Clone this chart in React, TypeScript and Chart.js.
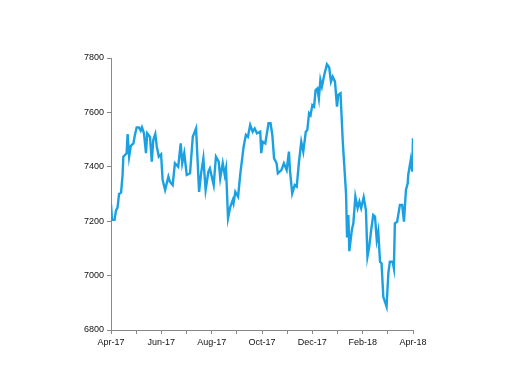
import React, { useEffect, useRef } from "react";
import { Chart, registerables } from "chart.js";

Chart.register(...registerables);

// x = months since Apr-2017
const monthOffsets = [
  0.0, 0.04, 0.14, 0.2, 0.26, 0.32, 0.4, 0.46, 0.49, 0.62, 0.66, 0.72, 0.79, 0.89, 0.95,
  1.02, 1.11, 1.18, 1.23, 1.31, 1.39, 1.44, 1.55, 1.62, 1.68, 1.76, 1.82, 1.9, 1.99,
  2.05, 2.15, 2.28, 2.34, 2.45, 2.54, 2.67, 2.77, 2.83, 2.91, 3.01, 3.14, 3.25, 3.38,
  3.5, 3.58, 3.67, 3.76, 3.87, 3.93, 4.08, 4.17, 4.28, 4.34, 4.44, 4.52, 4.57, 4.65,
  4.74, 4.84, 4.87, 4.94, 5.05, 5.14, 5.27, 5.36, 5.44, 5.53, 5.63, 5.71, 5.8, 5.93,
  5.97, 6.03, 6.13, 6.26, 6.34, 6.41, 6.48, 6.58, 6.63, 6.77, 6.87, 6.98, 7.07, 7.11,
  7.2, 7.3, 7.38, 7.47, 7.56, 7.64, 7.74, 7.8, 7.87, 7.93, 8.0, 8.07, 8.13, 8.2, 8.26,
  8.32, 8.38, 8.48, 8.58, 8.67, 8.74, 8.81, 8.9, 8.98, 9.03, 9.12, 9.21, 9.34, 9.38,
  9.43, 9.47, 9.57, 9.63, 9.71, 9.8, 9.87, 9.94, 10.04, 10.13, 10.19, 10.26, 10.33,
  10.42, 10.49, 10.56, 10.62, 10.69, 10.75, 10.82, 10.95, 11.02, 11.08, 11.19, 11.24,
  11.28, 11.37, 11.48, 11.57, 11.64, 11.72, 11.79, 11.81, 11.91, 11.97, 12.0,
];

const indexValues = [
  7262, 7205, 7205, 7240, 7250, 7300, 7305, 7370, 7437, 7450, 7520, 7437, 7477, 7486, 7517,
  7545, 7545, 7533, 7545, 7523, 7450, 7523, 7510, 7419, 7499, 7521, 7474, 7437, 7446,
  7352, 7315, 7364, 7345, 7333, 7413, 7400, 7486, 7413, 7450, 7370, 7376, 7510, 7541,
  7308, 7376, 7431, 7315, 7382, 7394, 7333, 7437, 7419, 7358, 7413, 7370, 7394, 7211,
  7253, 7278, 7266, 7308, 7290, 7376, 7474, 7517, 7510, 7554, 7529, 7541, 7523, 7529,
  7450, 7492, 7486, 7560, 7560, 7517, 7431, 7413, 7376, 7388, 7413, 7388, 7456, 7388,
  7302, 7333, 7327, 7419, 7492, 7456, 7529, 7535, 7597, 7590, 7627, 7621, 7682, 7688, 7652,
  7719, 7695, 7740, 7777, 7765, 7713, 7731, 7713, 7621, 7664, 7670, 7492, 7300, 7140,
  7223, 7090, 7168, 7192, 7290, 7248, 7272, 7248, 7288, 7240, 7070, 7106, 7162,
  7223, 7217, 7131, 7162, 7051, 7045, 6922, 6886, 7009, 7051, 7051, 7027,
  7192, 7198, 7260, 7260, 7198, 7315, 7339, 7370, 7425, 7382, 7505,
];

const xTickLabels = ["Apr-17", "Jun-17", "Aug-17", "Oct-17", "Dec-17", "Feb-18", "Apr-18"];

export default function App() {
  const ref = useRef<HTMLCanvasElement | null>(null);

  useEffect(() => {
    if (!ref.current) return;
    const font = { family: "'Liberation Sans', Arial, sans-serif", size: 9 };
    const chart = new Chart(ref.current, {
      type: "line",
      data: {
        datasets: [
          {
            data: monthOffsets.map((m, i) => ({ x: m, y: indexValues[i] })),
            borderColor: "#1ba1e2",
            borderWidth: 2.4,
            pointRadius: 0,
            tension: 0,
            fill: false,
          },
        ],
      },
      options: {
        animation: false,
        responsive: false,
        maintainAspectRatio: false,
        layout: { padding: { left: 61, right: 99, top: 58, bottom: 30 } },
        plugins: { legend: { display: false }, tooltip: { enabled: false } },
        scales: {
          x: {
            type: "linear",
            min: 0,
            max: 12,
            afterFit: (s: any) => {
              s.height = 24;
            },
            ticks: {
              stepSize: 1,
              autoSkip: false,
              maxRotation: 0,
              padding: 3,
              color: "#111",
              font,
              callback: (v: any) => {
                const n = Number(v);
                return n % 2 === 0 ? xTickLabels[n / 2] : "";
              },
            },
            grid: { drawOnChartArea: false, drawTicks: true, tickLength: 4, color: "#888" },
            border: { display: true, color: "#888", width: 1 },
          },
          y: {
            min: 6800,
            max: 7800,
            afterFit: (s: any) => {
              s.width = 50;
            },
            ticks: {
              stepSize: 200,
              padding: 3,
              color: "#111",
              font,
              callback: (v: any) => String(v),
            },
            grid: { drawOnChartArea: false, drawTicks: true, tickLength: 4, color: "#888" },
            border: { display: true, color: "#888", width: 1 },
          },
        },
      },
    });
    return () => chart.destroy();
  }, []);

  return (
    <div style={{ position: "fixed", left: 0, top: 0, width: 512, height: 384, background: "#fff" }}>
      <canvas ref={ref} width={512} height={384} style={{ width: 512, height: 384 }} />
    </div>
  );
}
